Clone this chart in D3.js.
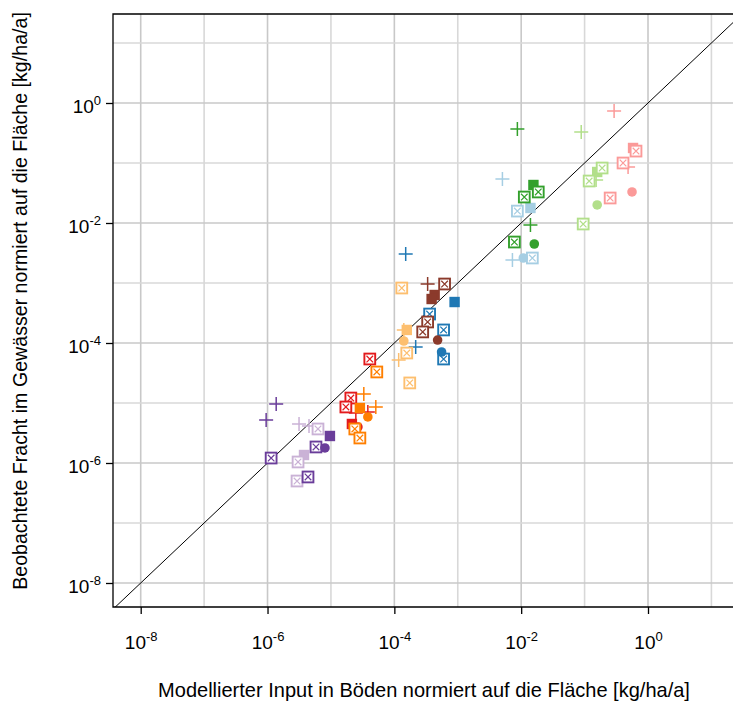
<!DOCTYPE html>
<html><head><meta charset="utf-8">
<script src="https://cdn.jsdelivr.net/npm/d3@7"></script>
<style>body{margin:0;background:#fff}svg{display:block}</style>
</head><body><svg id="c" width="733" height="707"></svg>
<script>
// ---- data (x = modelled input, y = observed load, shape of marker) ----
const tickExponents = [-8, -6, -4, -2, 0];
const gridExponents = [-8, -7, -6, -5, -4, -3, -2, -1, 0, 1];
const xTitle = "Modellierter Input in Böden normiert auf die Fläche [kg/ha/a]";
const yTitle = "Beobachtete Fracht im Gewässer normiert auf die Fläche [kg/ha/a]";

const pinkPts = [
  [0.292, 0.736, "plus"], [0.485, 0.0858, "plus"], [0.581, 0.178, "square"],
  [0.647, 0.158, "boxx"], [0.404, 0.100, "boxx"], [0.253, 0.0261, "boxx"], [0.560, 0.0329, "circle"]
];
const lightGreenPts = [
  [0.0885, 0.329, "plus"], [0.152, 0.0521, "plus"], [0.158, 0.0708, "square"],
  [0.189, 0.0825, "boxx"], [0.118, 0.0501, "boxx"], [0.095, 0.00962, "boxx"], [0.158, 0.0200, "circle"]
];
const greenPts = [
  [0.00871, 0.369, "plus"], [0.0140, 0.00926, "plus"], [0.0156, 0.0430, "square"],
  [0.0186, 0.0329, "boxx"], [0.0112, 0.0271, "boxx"], [0.00782, 0.00482, "boxx"], [0.0161, 0.00447, "circle"]
];
const lightBluePts = [
  [0.00506, 0.0541, "plus"], [0.00728, 0.00242, "plus"], [0.0140, 0.0178, "square"],
  [0.00871, 0.0158, "boxx"], [0.0150, 0.00261, "boxx"], [0.0108, 0.00261, "circle"]
];
const bluePts = [
  [1.51e-4, 3.04e-3, "plus"], [2.17e-4, 8.58e-5, "plus"], [8.91e-4, 4.82e-4, "square"],
  [3.60e-4, 3.04e-4, "boxx"], [5.98e-4, 1.65e-4, "boxx"], [5.98e-4, 5.41e-5, "boxx"], [5.56e-4, 7.08e-5, "circle"]
];
const brownPts = [
  [3.35e-4, 9.62e-4, "plus"], [6.20e-4, 9.62e-4, "boxx"], [4.32e-4, 6.31e-4, "square"],
  [3.87e-4, 5.41e-4, "square"], [3.35e-4, 2.24e-4, "boxx"], [2.80e-4, 1.53e-4, "boxx"], [4.81e-4, 1.12e-4, "circle"]
];
const lightOrangePts = [
  [1.41e-4, 1.65e-4, "plus"], [1.17e-4, 5.21e-5, "plus"], [1.57e-4, 1.65e-4, "square"],
  [1.31e-4, 8.25e-4, "boxx"], [1.57e-4, 6.81e-5, "boxx"], [1.75e-4, 2.16e-5, "boxx"], [1.41e-4, 1.08e-4, "circle"]
];
const redPts = [
  [2.47e-5, 6.81e-6, "plus"], [3.82e-5, 7.08e-6, "plus"], [2.14e-5, 4.47e-6, "square"],
  [4.10e-5, 5.41e-5, "boxx"], [2.06e-5, 1.21e-5, "boxx"], [1.72e-5, 8.58e-6, "boxx"], [2.66e-5, 3.98e-6, "circle"]
];
const orangePts = [
  [3.30e-5, 1.41e-5, "plus"], [5.10e-5, 8.58e-6, "plus"], [2.86e-5, 8.25e-6, "square"],
  [5.29e-5, 3.29e-5, "boxx"], [2.38e-5, 3.69e-6, "boxx"], [2.86e-5, 2.61e-6, "boxx"], [3.82e-5, 5.85e-6, "circle"]
];
const purplePts = [
  [1.37e-6, 9.62e-6, "plus"], [9.51e-7, 5.21e-6, "plus"], [9.64e-6, 2.82e-6, "square"],
  [5.81e-6, 1.85e-6, "boxx"], [1.14e-6, 1.21e-6, "boxx"], [4.35e-6, 5.85e-7, "boxx"], [8.05e-6, 1.78e-6, "circle"]
];
const lightPurplePts = [
  [3.14e-6, 4.47e-6, "plus"], [4.51e-6, 4.14e-6, "plus"], [3.76e-6, 1.36e-6, "square"],
  [6.25e-6, 3.69e-6, "boxx"], [3.03e-6, 1.04e-6, "boxx"], [2.92e-6, 5.01e-7, "boxx"]
];

const seriesData = [lightBluePts, bluePts, lightGreenPts, greenPts, pinkPts, redPts,
                    lightOrangePts, orangePts, lightPurplePts, purplePts, brownPts];
const seriesColors = ["#a6cee3", "#1f78b4", "#b2df8a", "#33a02c", "#fb9a99", "#e31a1c",
                      "#fdbf6f", "#ff7f00", "#cab2d6", "#6a3d9a", "#8b3a2b"];

// ---- layout ----
const L = 113, T = 14, R = 733, B = 607;
const FONT = "'Liberation Sans', Arial, sans-serif";
const svg = d3.select("#c");

const x = d3.scaleLog().domain([1e-8, 1]).range([140.7, 648]);
const y = d3.scaleLog().domain([1e-8, 1]).range([583, 103]);

svg.append("defs").append("clipPath").attr("id", "clip")
  .append("rect").attr("x", L).attr("y", T).attr("width", R - L + 10).attr("height", B - T);

const plot = svg.append("g").attr("clip-path", "url(#clip)");

// grid
plot.selectAll("line.gx").data(gridExponents).join("line")
  .attr("x1", d => x(Math.pow(10, d))).attr("x2", d => x(Math.pow(10, d)))
  .attr("y1", T).attr("y2", B)
  .attr("stroke", d => d % 2 === 0 ? "#c8c8c8" : "#d8d8d8").attr("stroke-width", 1.6);
plot.selectAll("line.gy").data(gridExponents).join("line")
  .attr("y1", d => y(Math.pow(10, d))).attr("y2", d => y(Math.pow(10, d)))
  .attr("x1", L).attr("x2", R + 10)
  .attr("stroke", d => d % 2 === 0 ? "#c8c8c8" : "#d8d8d8").attr("stroke-width", 1.6);

// 1:1 line
const d0 = x.invert(L), d1 = x.invert(R + 10);
plot.append("line")
  .attr("x1", x(d0)).attr("y1", y(d0)).attr("x2", x(d1)).attr("y2", y(d1))
  .attr("stroke", "#000").attr("stroke-width", 1);

// markers
function drawMarker(g, shape, color) {
  if (shape === "plus") {
    const a = 7;
    g.append("path").attr("d", `M${-a},0H${a}M0,${-a}V${a}`)
      .attr("stroke", color).attr("stroke-width", 1.5).attr("fill", "none");
  } else if (shape === "square") {
    const a = 5.2;
    g.append("rect").attr("x", -a).attr("y", -a).attr("width", 2 * a).attr("height", 2 * a)
      .attr("fill", color);
  } else if (shape === "boxx") {
    const a = 5.4, b = 3.3;
    g.append("rect").attr("x", -a).attr("y", -a).attr("width", 2 * a).attr("height", 2 * a)
      .attr("fill", "#fff").attr("stroke", color).attr("stroke-width", 1.9);
    g.append("path").attr("d", `M${-b},${-b}L${b},${b}M${-b},${b}L${b},${-b}`)
      .attr("stroke", color).attr("stroke-width", 1.2);
  } else if (shape === "circle") {
    g.append("circle").attr("r", 4.8).attr("fill", color);
  }
}
seriesData.forEach((pts, i) => {
  const col = seriesColors[i];
  plot.append("g").selectAll("g").data(pts).join("g")
    .attr("transform", d => `translate(${x(d[0])},${y(d[1])})`)
    .each(function (d) { drawMarker(d3.select(this), d[2], col); });
});

// box (left, top, bottom; right is beyond the picture)
svg.append("path").attr("d", `M${R + 5},${T}H${L}V${B}H${R + 5}`)
  .attr("fill", "none").attr("stroke", "#000").attr("stroke-width", 1.3);

// axes
function supLabel(sel) {
  sel.each(function (d) {
    const t = d3.select(this);
    const e = Math.round(Math.log10(d));
    t.text(null);
    t.append("tspan").text("10");
    t.append("tspan").attr("dy", -8).attr("font-size", 13).text(e);
  });
}
const tickVals = tickExponents.map(e => Math.pow(10, e));
const xAxis = svg.append("g").attr("transform", `translate(0,${B})`)
  .call(d3.axisBottom(x).tickValues(tickVals).tickSize(7).tickPadding(0));
xAxis.select(".domain").remove();
xAxis.selectAll(".tick line").attr("stroke", "#000").attr("stroke-width", 1.3);
xAxis.selectAll(".tick text").attr("font-family", FONT).attr("font-size", 19).attr("fill", "#000")
  .attr("dy", null).attr("y", 42).call(supLabel);

const yAxis = svg.append("g").attr("transform", `translate(${L},0)`)
  .call(d3.axisLeft(y).tickValues(tickVals).tickSize(7).tickPadding(0));
yAxis.select(".domain").remove();
yAxis.selectAll(".tick line").attr("stroke", "#000").attr("stroke-width", 1.3);
yAxis.selectAll(".tick text").attr("font-family", FONT).attr("font-size", 19).attr("fill", "#000")
  .attr("dy", null).attr("x", -12).attr("y", 9).call(supLabel);

// titles, sized to the span they cover in the reference
function fitText(sel, target) {
  const len = sel.node().getComputedTextLength();
  const fs = +sel.attr("font-size");
  sel.attr("font-size", fs * target / len);
}
const xt = svg.append("text").attr("x", 424).attr("y", 697).attr("text-anchor", "middle")
  .attr("font-family", FONT).attr("font-size", 16).attr("fill", "#000").text(xTitle);
fitText(xt, 532);
const yt = svg.append("text").attr("transform", "translate(27,301) rotate(-90)").attr("text-anchor", "middle")
  .attr("font-family", FONT).attr("font-size", 16).attr("fill", "#000").text(yTitle);
fitText(yt, 578);
</script></body></html>
